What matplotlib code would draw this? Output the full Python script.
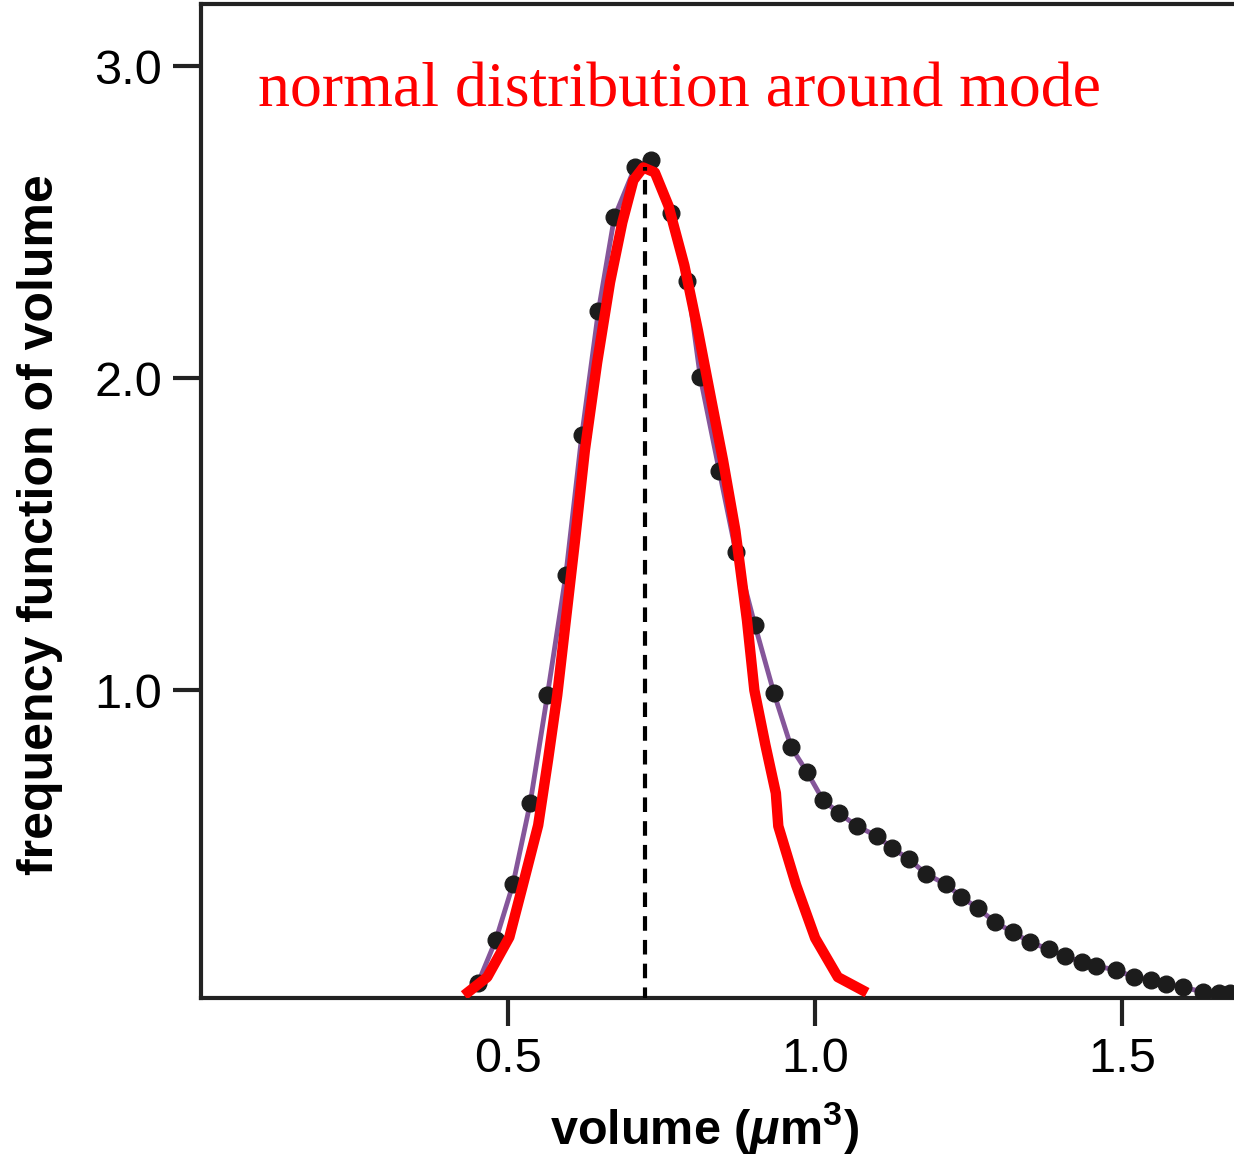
import matplotlib
matplotlib.use("Agg")
from matplotlib import pyplot as plt

plt.rcParams['font.family'] = ['Liberation Sans', 'DejaVu Sans']
plt.rcParams['mathtext.fontset'] = 'custom'
plt.rcParams['mathtext.rm'] = 'Liberation Sans:bold'
plt.rcParams['mathtext.it'] = 'Liberation Sans:italic:bold'

# measured volume distribution (dots)
vol = [0.451, 0.480, 0.508, 0.536, 0.564, 0.594, 0.620, 0.647, 0.673, 0.707,
       0.733, 0.765, 0.792, 0.813, 0.844, 0.871, 0.902, 0.933, 0.961, 0.987,
       1.013, 1.039, 1.068, 1.101, 1.125, 1.153, 1.181, 1.213, 1.238, 1.265,
       1.293, 1.322, 1.350, 1.380, 1.407, 1.435, 1.458, 1.490, 1.519, 1.547,
       1.572, 1.599, 1.632, 1.658, 1.676]
freq = [0.061, 0.199, 0.378, 0.638, 0.984, 1.369, 1.817, 2.215, 2.516, 2.679,
        2.699, 2.529, 2.311, 2.003, 1.702, 1.442, 1.208, 0.990, 0.817, 0.737,
        0.647, 0.606, 0.564, 0.532, 0.494, 0.458, 0.410, 0.378, 0.337, 0.301,
        0.256, 0.224, 0.192, 0.170, 0.147, 0.128, 0.115, 0.103, 0.080, 0.071,
        0.058, 0.048, 0.032, 0.029, 0.029]

# start of the fitted (purple) curve before the first dot
fit_start_x = 0.430
fit_start_y = 0.010

# hand drawn normal curve around the mode (red)
norm_x = [0.435, 0.466, 0.502, 0.524, 0.549, 0.565, 0.580, 0.594, 0.609, 0.625,
          0.645, 0.666, 0.686, 0.704, 0.720, 0.739, 0.761, 0.787, 0.809, 0.831,
          0.850, 0.870, 0.889, 0.901, 0.919, 0.936, 0.940, 0.969, 1.000, 1.037,
          1.077]
norm_y = [0.032, 0.080, 0.208, 0.375, 0.567, 0.776, 0.984, 1.224, 1.481, 1.769,
          2.051, 2.308, 2.500, 2.635, 2.676, 2.660, 2.554, 2.362, 2.154, 1.929,
          1.737, 1.513, 1.224, 1.000, 0.824, 0.670, 0.564, 0.375, 0.205, 0.080,
          0.038]

mode_x = 0.723
mode_y = 2.676

fig = plt.figure(figsize=(12.34, 11.59), dpi=100)
ax = fig.add_axes([0.1629, 0.1389, 0.8371, 0.8576])

ax.plot([fit_start_x] + vol, [fit_start_y] + freq, color='#85569a', lw=3.5, zorder=2)
ax.plot(vol, freq, 'o', color='#1c1c1c', ms=12, zorder=3)
ax.plot(norm_x, norm_y, color='#ff0000', lw=7.5, solid_joinstyle='round', zorder=4)
ax.plot([mode_x, mode_x], [0, mode_y], color='black', lw=3, ls=(0, (3.5, 2.2)), zorder=5)

ax.text(0.093, 2.87, 'normal distribution around mode', color='#ff0000',
        fontsize=46, family=['Liberation Serif', 'DejaVu Serif'], va='baseline')

ax.set_xlim(0, 1.682)
ax.set_ylim(0.013, 3.2)
ax.set_xticks([0.5, 1.0, 1.5])
ax.set_yticks([1.0, 2.0, 3.0])
ax.set_xticklabels(['0.5', '1.0', '1.5'])
ax.set_yticklabels(['1.0', '2.0', '3.0'])
ax.tick_params(labelsize=35, width=3, length=20, color='#222222', pad=8)

for s in ['left', 'top', 'bottom']:
    ax.spines[s].set_linewidth(3)
    ax.spines[s].set_color('#222222')
ax.spines['right'].set_visible(False)

ax.set_xlabel(r'volume ($\mu$m$^{3}$)', fontsize=35, fontweight='bold', va='center')
ax.set_ylabel('frequency function of volume', fontsize=36, fontweight='bold', va='center')
ax.xaxis.set_label_coords(0.487, -0.131)
ax.yaxis.set_label_coords(-0.156, 0.476)

fig.savefig('out.png', dpi=100)
